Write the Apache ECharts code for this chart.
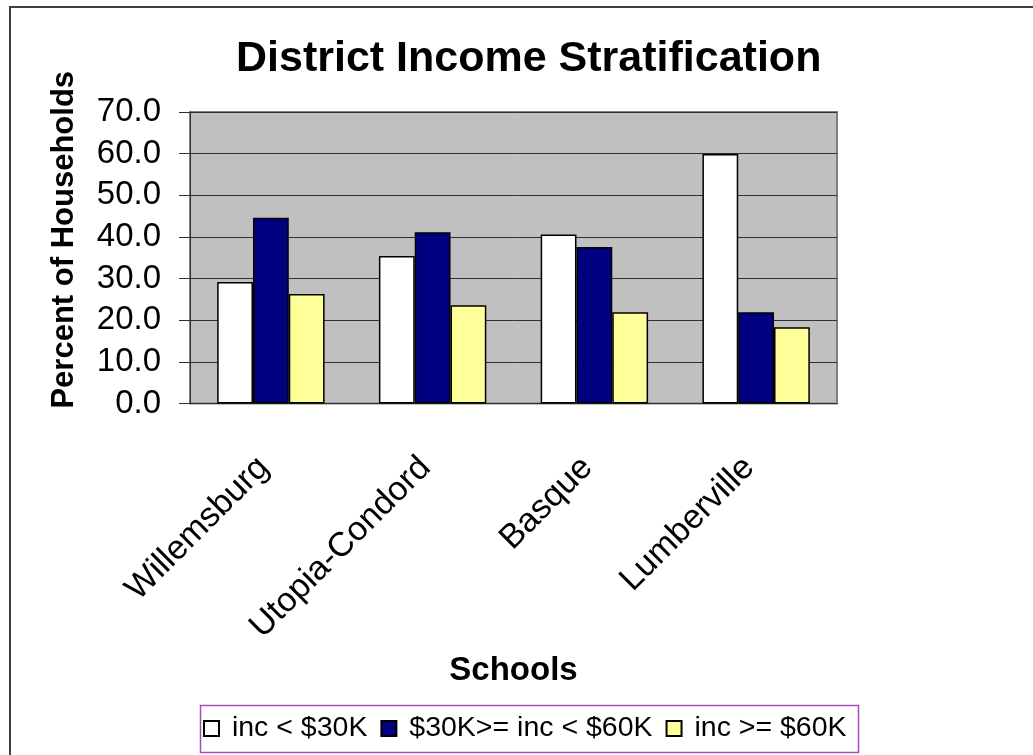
<!DOCTYPE html>
<html><head><meta charset="utf-8">
<script src="https://cdn.jsdelivr.net/npm/echarts@6/dist/echarts.min.js"></script>
<style>html,body{margin:0;padding:0;background:#fff}#c{width:1033px;height:755px}</style>
</head><body><div id="c"></div>
<script>
const categories = ['Willemsburg', 'Utopia-Condord', 'Basque', 'Lumberville'];
const seriesNames = ['inc < $30K', '$30K>= inc < $60K', 'inc >= $60K'];
const lowIncome = [29.2, 35.4, 40.6, 59.9];
const midIncome = [44.6, 41.1, 37.6, 21.9];
const highIncome = [26.3, 23.6, 21.9, 18.3];
const yMin = 0, yMax = 70, yStep = 10;

const FONT = '"Liberation Sans", Arial, Helvetica, sans-serif';
const colors = ['#FFFFFF', '#000080', '#FFFF99'];
const values = [lowIncome, midIncome, highIncome];

const chart = echarts.init(document.getElementById('c'), null, {renderer: 'canvas'});
const option = {
  backgroundColor: '#ffffff',
  animation: false,
  textStyle: {fontFamily: FONT},
  title: {
    text: 'District Income Stratification',
    left: 236, top: 38, padding: 0,
    textStyle: {fontSize: 43, fontWeight: 'bold', color: '#000', fontFamily: FONT}
  },
  graphic: [
    {type: 'rect', silent: true, z: -10, shape: {x: 10, y: 7, width: 1100, height: 800},
     style: {fill: 'none', stroke: '#404040', lineWidth: 2}},
    {type: 'rect', silent: true, z: -10, shape: {x: 200.5, y: 705.5, width: 658, height: 47},
     style: {fill: '#ffffff', stroke: '#A64DB8', lineWidth: 1.5}}
  ],
  legend: {
    left: 203, top: 714, padding: 0, itemWidth: 15, itemHeight: 15, itemGap: 13,
    icon: 'rect', selectedMode: false,
    formatter: name => ' ' + name,
    textStyle: {fontSize: 28.5, color: '#000', fontFamily: FONT}
  },
  grid: {
    left: 190, right: 196, top: 112, bottom: 351.5,
    show: true, backgroundColor: '#C0C0C0', borderColor: '#808080', borderWidth: 2
  },
  xAxis: {
    type: 'category', data: categories,
    name: 'Schools', nameLocation: 'middle', nameGap: 251,
    nameTextStyle: {fontSize: 33, fontWeight: 'bold', color: '#000', fontFamily: FONT},
    axisLine: {lineStyle: {color: '#303030', width: 1}},
    axisTick: {length: 10, lineStyle: {color: '#303030'}},
    axisLabel: {rotate: 45, fontSize: 34, color: '#000', margin: 52, padding: [0, 10, 0, 0], fontFamily: FONT}
  },
  yAxis: {
    type: 'value', min: yMin, max: yMax, interval: yStep,
    name: 'Percent of Households', nameLocation: 'middle', nameGap: 110,
    nameTextStyle: {fontSize: 31, fontWeight: 'bold', color: '#000', fontFamily: FONT, padding: [0, 0, 0, 36]},
    axisLine: {show: true, lineStyle: {color: '#303030', width: 1}},
    axisTick: {show: true, length: 11, lineStyle: {color: '#303030'}},
    axisLabel: {fontSize: 33, color: '#000', margin: 29, fontFamily: FONT, formatter: v => v.toFixed(1)},
    splitLine: {lineStyle: {color: '#303030', width: 1}}
  },
  series: seriesNames.map((name, i) => ({
    name: name, type: 'bar', data: values[i],
    barGap: '0%', barCategoryGap: '33.6%',
    itemStyle: {color: colors[i], borderColor: '#000', borderWidth: 1.5}
  }))
};
chart.setOption(option);
</script></body></html>
